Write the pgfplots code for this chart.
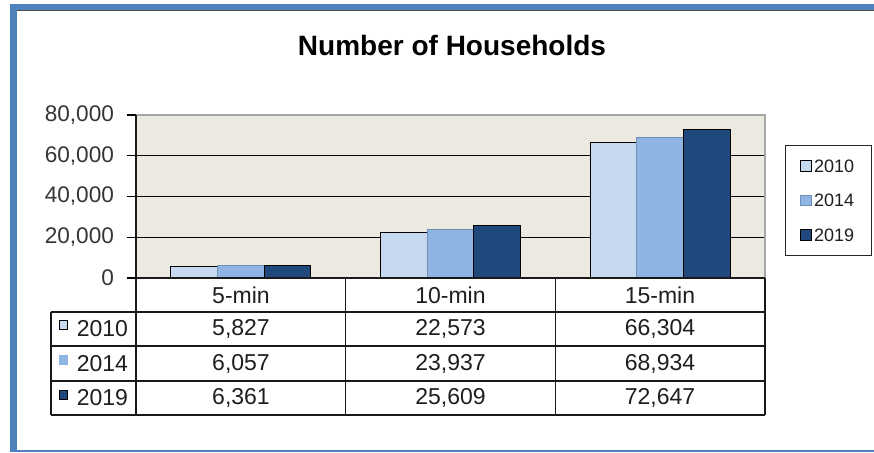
\documentclass[border=0pt]{standalone}
\usepackage{fontspec}
\setmainfont{Liberation Sans}
\usepackage{pgfplots}
\pgfplotsset{compat=1.18}
\definecolor{c2010}{RGB}{198,217,241}
\definecolor{c2014}{RGB}{141,180,226}
\definecolor{c2019}{RGB}{31,73,125}
\definecolor{plotbg}{RGB}{236,234,224}
\definecolor{frameblue}{RGB}{79,129,189}
\definecolor{txt}{RGB}{30,30,30}
\newcommand{\tfont}{\fontsize{11.5}{13}\selectfont}
\begin{document}
\begin{tikzpicture}
\useasboundingbox (0,0) rectangle (437pt,226pt);
\begin{scope}[x=0.5pt,y=-0.5pt,shift={(0pt,226pt)}]
  \fill[frameblue] (10,4) rectangle (874,9.5);
  \fill[frameblue] (10,4) rectangle (16.5,452);
  \fill[frameblue] (10,449.5) rectangle (874,452);
  \draw[black!70, line width=0.5pt] (16.5,10) -- (874,10);
  \node[font=\bfseries\fontsize{14}{16}\selectfont, text=black] at (452,45) {Number of Households};
\end{scope}
\begin{axis}[
  at={(68pt,87pt)}, anchor=south west, scale only axis,
  width=314.5pt, height=81.5pt,
  xmin=-0.5, xmax=2.5, ymin=0, ymax=80000,
  xtick=\empty,
  ytick={20000,40000,60000},
  extra y ticks={0,80000}, extra y tick style={grid=none},
  ymajorgrids, grid style={black, line width=0.7pt},
  axis background/.style={fill=plotbg},
  axis line style={draw=gray!70, line width=0.8pt},
  tick style={black, line width=0.7pt},
  major tick length=4.5pt, tick align=outside,
  ytick pos=left,
  yticklabel style={font=\fontsize{11.3}{13}\selectfont, text=txt!90!white, xshift=-3pt},
  scaled y ticks=false,
  ybar=0pt, bar width=23.3pt,
  legend style={at={(1.031,0.816)}, anchor=north west, draw=black!85, line width=0.6pt, fill=white,
    inner xsep=7.5pt, inner ysep=5.8pt, row sep=9pt, font=\fontsize{9}{10}\selectfont, text=txt,
    nodes={inner sep=1pt, text height=6.4pt, text depth=0pt}},
  legend cell align=left,
  every axis plot post/.append style={legend image code/.code={\draw[#1, line width=0.5pt] (0pt,-2.7pt) rectangle (5.5pt,2.7pt);}},
  /pgf/number format/1000 sep={,},
  /pgf/number format/assume math mode=true,
]
\addplot[fill=c2010, draw=black, line width=0.5pt] coordinates {(0,5827) (1,22573) (2,66304)};
\addplot[fill=c2014, draw=c2014!80!black, line width=0.5pt] coordinates {(0,6057) (1,23937) (2,68934)};
\addplot[fill=c2019, draw=black, line width=0.5pt] coordinates {(0,6361) (1,25609) (2,72647)};
\legend{2010,2014,2019}
\end{axis}
\begin{scope}[x=0.5pt,y=-0.5pt,shift={(0pt,226pt)}, line width=0.75pt, draw=black!90]
  % table lines
  \draw (136,278) -- (765,278);
  \foreach \yy in {312,346,381,415} \draw (51,\yy) -- (765,\yy);
  \draw (51,312) -- (51,415);
  \draw (136,115) -- (136,415);
  \foreach \xx in {345.7,555.3,765} \draw (\xx,278) -- (\xx,415);
  % header
  \foreach \xx/\t in {241/5-min, 450.5/10-min, 660/15-min}
    \node[font=\tfont, text=txt] at (\xx,295) {\t};
  % rows
  \foreach \yy/\a/\b/\c in {329/5{,}827/22{,}573/66{,}304, 363.5/6{,}057/23{,}937/68{,}934, 398/6{,}361/25{,}609/72{,}647}{
    \node[font=\tfont, text=txt] at (241,\yy) {\a};
    \node[font=\tfont, text=txt] at (450.5,\yy) {\b};
    \node[font=\tfont, text=txt] at (660,\yy) {\c};
  }
  \filldraw[fill=c2010, draw=black, line width=0.5pt] (59,320) rectangle (67,329);
  \filldraw[fill=c2014, draw=c2014, line width=0.5pt] (59,355) rectangle (67,364);
  \filldraw[fill=c2019, draw=black, line width=0.5pt] (59,390) rectangle (67,399);
  \node[font=\tfont, text=txt, anchor=west, inner sep=0pt] at (76,329) {2010};
  \node[font=\tfont, text=txt, anchor=west, inner sep=0pt] at (76,363.5) {2014};
  \node[font=\tfont, text=txt, anchor=west, inner sep=0pt] at (76,398) {2019};
\end{scope}
\end{tikzpicture}
\end{document}
